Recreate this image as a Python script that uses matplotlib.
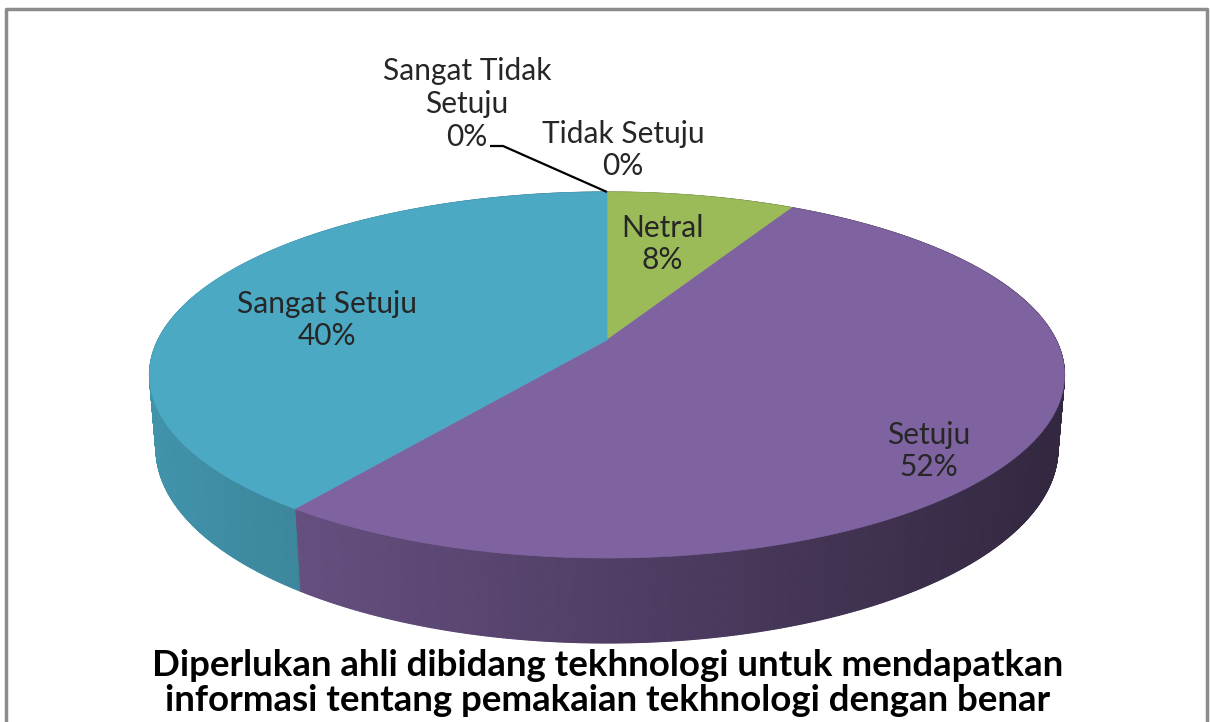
import textwrap
import numpy as np
import matplotlib
matplotlib.use("Agg")
import matplotlib.pyplot as plt
from matplotlib.collections import PolyCollection
from matplotlib.patches import Polygon
from matplotlib import colors as mcolors

# data, in Excel order (first slice starts at 12 o'clock, clockwise)
categories = ["Sangat Tidak Setuju", "Tidak Setuju", "Netral", "Setuju", "Sangat Setuju"]
percent = [0, 0, 8, 52, 40]
slice_colors = ["#4F81BD", "#C0504D", "#9BBB59", "#7F63A0", "#4BA9C4"]
title = "Diperlukan ahli dibidang tekhnologi untuk mendapatkan\ninformasi tentang pemakaian tekhnologi dengan benar"

# label centres in pixel coords (layout only)
label_pos = {
    "Sangat Tidak Setuju": (467, 104),
    "Tidak Setuju": (623, 150),
    "Netral": (662, 244),
    "Sangat Setuju": (327, 320),
    "Setuju": (929, 451),
}

W, H = 1211, 722

# simple perspective camera for the 3d pie
CX, CY = 607, 340
ELEV = np.radians(22.8)
DIST = 4.82
FOC = 2193
SX = 0.987          # squeeze horizontally a touch
DEPTH = 0.174


def project(u, v, z):
    # u: right, v: away from viewer, z: up (top face at z=0)
    yc = v * np.sin(ELEV) + z * np.cos(ELEV)
    d = DIST + v * np.cos(ELEV) - z * np.sin(ELEV)
    return CX + SX * FOC * u / d, CY - FOC * yc / d


def rim(phi, z=0.0):
    return project(np.sin(phi), np.cos(phi), z)


fig = plt.figure(figsize=(W / 100, H / 100), dpi=100)
ax = fig.add_axes([0, 0, 1, 1])
ax.set_xlim(0, W)
ax.set_ylim(H, 0)
ax.axis("off")

fracs = np.array(percent, dtype=float) / sum(percent)
bounds = np.concatenate([[0], np.cumsum(fracs)]) * 2 * np.pi

# side walls first, darker towards the right
side_polys, side_cols = [], []
for i in range(len(categories)):
    a0, a1 = bounds[i], bounds[i + 1]
    if a1 - a0 <= 0:
        continue
    n = max(int(np.degrees(a1 - a0) * 4), 2)
    phis = np.linspace(a0, a1, n + 1)
    base = np.array(mcolors.to_rgb(slice_colors[i]))
    for p0, p1 in zip(phis[:-1], phis[1:]):
        t0, t1 = rim(p0), rim(p1)
        b0, b1 = rim(p0, -DEPTH), rim(p1, -DEPTH)
        xm = (t0[0] + t1[0]) / 2
        shade = 0.87 - 0.47 * np.clip((xm - 150) / 910, 0, 1)
        side_polys.append([t0, t1, b1, b0])
        side_cols.append(base * shade)
ax.add_collection(PolyCollection(side_polys, facecolors=side_cols, edgecolors=side_cols, linewidths=0.8))

# top faces
for i in range(len(categories)):
    a0, a1 = bounds[i], bounds[i + 1]
    if a1 - a0 <= 0:
        continue
    phis = np.linspace(a0, a1, 200)
    pts = [project(0, 0, 0)] + [rim(p) for p in phis]
    ax.add_patch(Polygon(pts, closed=True, facecolor=slice_colors[i],
                         edgecolor=slice_colors[i], linewidth=0.5))

# data labels
for cat, pct in zip(categories, percent):
    txt = textwrap.fill(cat, 13) + f"\n{pct}%"
    x, y = label_pos[cat]
    ax.text(x, y, txt, ha="center", va="center", fontsize=21.5, family="Lato",
            color="#262626", linespacing=1.2)

# leader line for the first zero slice
tx, ty = label_pos[categories[0]]
px, py = rim(bounds[0])
ax.plot([tx + 23, tx + 36, px], [ty + 42, ty + 42, py], color="black", lw=1.6,
        solid_capstyle="butt")

ax.text(608, 683, title, ha="center", va="center", fontsize=26.4, family="Lato",
        fontweight="bold", color="black", linespacing=1.05)

# chart frame
ax.plot([6, 6, 1207, 1207], [H, 9, 9, H], color="#8c8c8c", lw=2.5)

fig.savefig("out.png", dpi=100)
